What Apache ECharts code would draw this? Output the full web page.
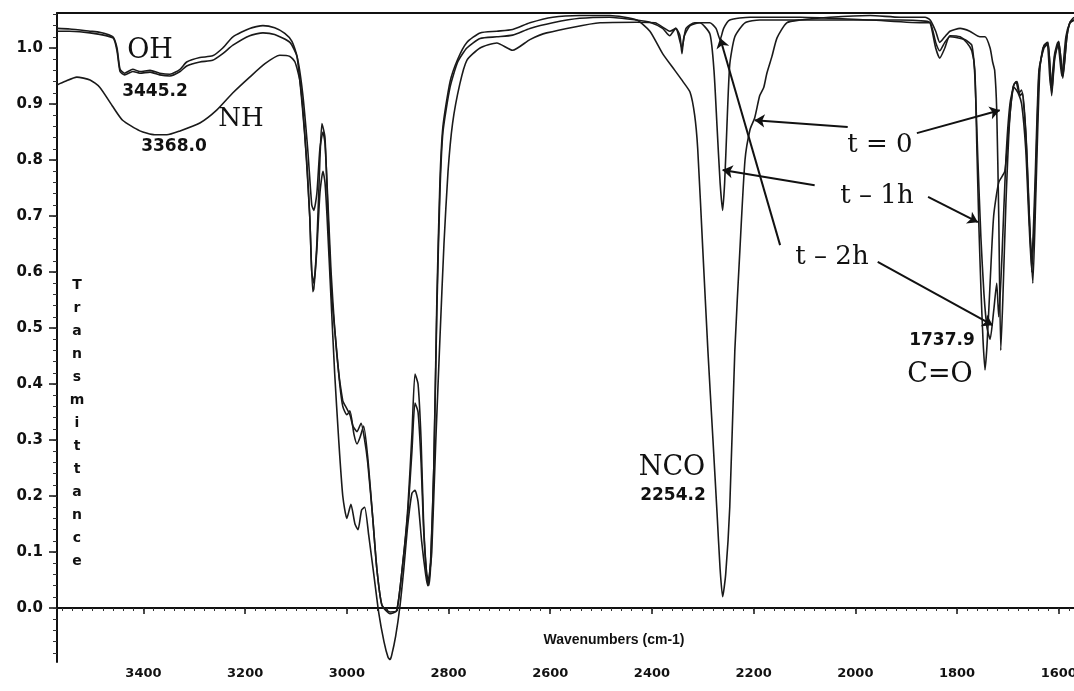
<!DOCTYPE html>
<html>
<head>
<meta charset="utf-8">
<title>FTIR spectrum</title>
<script src="https://cdn.jsdelivr.net/npm/echarts@6/dist/echarts.min.js"></script>
<style>
html,body{margin:0;padding:0;background:#fff;}
#main{width:1074px;height:691px;}
</style>
</head>
<body>
<div id="main"></div>
<script>
// axis ticks
var xTicks=[1600,1800,2000,2200,2400,2600,2800,3000,3200,3400];
var yTicks=[0,0.1,0.2,0.3,0.4,0.5,0.6,0.7,0.8,0.9,1.0];

// spectra: [wavenumber, transmittance]
var t0=[[3570,1.035],[3545,1.034],[3505,1.03],[3486,1.028],[3460,1.02],[3452,1.0],[3446,0.962],[3437,0.955],
	[3421,0.962],[3407,0.958],[3387,0.96],[3368,0.955],[3348,0.953],[3328,0.962],[3315,0.975],[3289,0.983],
	[3264,0.986],[3244,1.0],[3224,1.02],[3191,1.035],[3165,1.04],[3142,1.036],[3122,1.026],[3108,1.012],
	[3098,0.985],[3088,0.9],[3079,0.8],[3073,0.7],[3069,0.6],[3065,0.58],[3059,0.65],[3053,0.8],[3049,0.865],
	[3043,0.84],[3037,0.7],[3030,0.56],[3022,0.48],[3014,0.4],[3008,0.36],[3000,0.345],[2994,0.352],[2986,0.31],
	[2980,0.293],[2974,0.305],[2967,0.325],[2959,0.27],[2949,0.16],[2941,0.07],[2931,0.005],[2915,-0.01],
	[2902,-0.005],[2890,0.08],[2880,0.18],[2872,0.31],[2866,0.418],[2860,0.4],[2854,0.3],[2849,0.15],[2843,0.06],
	[2839,0.04],[2835,0.08],[2829,0.25],[2823,0.55],[2817,0.76],[2811,0.86],[2797,0.94],[2782,0.98],[2764,1.01],
	[2738,1.027],[2705,1.03],[2674,1.033],[2640,1.045],[2595,1.055],[2542,1.058],[2483,1.058],[2430,1.05],
	[2404,1.03],[2379,0.99],[2355,0.96],[2339,0.94],[2325,0.921],[2316,0.88],[2310,0.82],[2300,0.64],[2290,0.46],
	[2280,0.3],[2272,0.17],[2266,0.07],[2261,0.02],[2255,0.06],[2247,0.18],[2237,0.46],[2227,0.64],[2217,0.8],
	[2207,0.855],[2198,0.875],[2188,0.915],[2180,0.93],[2174,0.955],[2164,0.985],[2154,1.018],[2135,1.045],
	[2109,1.05],[2050,1.055],[1971,1.058],[1912,1.055],[1863,1.055],[1853,1.05],[1842,1.03],[1834,1.01],
	[1824,1.02],[1814,1.03],[1794,1.035],[1775,1.03],[1755,1.02],[1745,1.02],[1735,1.0],[1730,0.975],[1726,0.96],
	[1722,0.89],[1718,0.7],[1714,0.46],[1710,0.55],[1704,0.72],[1696,0.88],[1688,0.935],[1682,0.94],[1676,0.915],
	[1671,0.92],[1663,0.82],[1657,0.68],[1651,0.58],[1645,0.74],[1637,0.965],[1629,1.005],[1621,1.01],[1614,0.915],
	[1608,0.98],[1600,1.012],[1592,0.946],[1584,1.02],[1578,1.046],[1570,1.055]];

var t1=[[3570,1.03],[3545,1.03],[3505,1.027],[3460,1.018],[3452,0.995],[3446,0.958],[3437,0.952],[3421,0.958],
	[3407,0.955],[3387,0.957],[3368,0.952],[3348,0.95],[3328,0.958],[3315,0.968],[3289,0.975],[3264,0.978],
	[3244,0.99],[3224,1.005],[3191,1.022],[3165,1.027],[3142,1.024],[3112,1.01],[3098,0.985],[3087,0.92],
	[3077,0.82],[3069,0.72],[3065,0.71],[3059,0.74],[3053,0.82],[3047,0.85],[3043,0.83],[3037,0.72],[3031,0.6],
	[3024,0.5],[3016,0.42],[3008,0.37],[3006,0.366],[2994,0.345],[2988,0.325],[2980,0.315],[2972,0.33],[2965,0.3],
	[2959,0.26],[2949,0.16],[2941,0.07],[2931,0.005],[2915,-0.007],[2902,-0.005],[2890,0.08],[2880,0.17],
	[2872,0.28],[2866,0.366],[2860,0.35],[2854,0.26],[2849,0.14],[2843,0.06],[2839,0.05],[2835,0.09],[2829,0.25],
	[2823,0.53],[2817,0.74],[2811,0.85],[2797,0.93],[2782,0.975],[2764,1.0],[2738,1.017],[2705,1.02],[2674,1.023],
	[2640,1.035],[2595,1.045],[2542,1.053],[2483,1.055],[2430,1.05],[2404,1.046],[2379,1.035],[2365,1.022],
	[2353,1.035],[2345,1.022],[2341,0.99],[2337,1.02],[2325,1.04],[2306,1.045],[2286,1.025],[2278,0.96],
	[2272,0.86],[2266,0.76],[2261,0.71],[2257,0.76],[2253,0.85],[2247,0.97],[2237,1.02],[2217,1.045],[2188,1.05],
	[2109,1.05],[2011,1.05],[1912,1.05],[1863,1.048],[1853,1.045],[1842,1.0],[1834,0.982],[1824,1.0],[1814,1.022],
	[1794,1.02],[1781,1.01],[1771,0.995],[1765,0.96],[1761,0.82],[1757,0.68],[1753,0.57],[1749,0.48],[1745,0.425],
	[1741,0.47],[1735,0.58],[1728,0.7],[1718,0.76],[1706,0.78],[1698,0.86],[1690,0.93],[1684,0.94],[1678,0.92],
	[1673,0.925],[1665,0.85],[1659,0.72],[1653,0.62],[1647,0.75],[1639,0.96],[1629,1.0],[1621,1.008],[1614,0.92],
	[1608,0.985],[1600,1.01],[1592,0.95],[1584,1.02],[1578,1.045],[1570,1.05]];

var t2=[[3570,0.934],[3555,0.94],[3531,0.948],[3505,0.943],[3486,0.93],[3460,0.895],[3441,0.871],[3407,0.852],
	[3378,0.845],[3354,0.845],[3328,0.852],[3289,0.866],[3256,0.889],[3224,0.92],[3191,0.948],[3161,0.972],
	[3132,0.987],[3112,0.985],[3102,0.975],[3092,0.94],[3083,0.85],[3073,0.7],[3067,0.565],[3065,0.57],
	[3059,0.64],[3053,0.74],[3047,0.78],[3043,0.76],[3039,0.7],[3031,0.55],[3024,0.42],[3016,0.3],[3008,0.2],
	[3000,0.16],[2992,0.185],[2984,0.15],[2978,0.14],[2971,0.175],[2965,0.18],[2957,0.13],[2947,0.06],
	[2937,-0.01],[2927,-0.06],[2919,-0.088],[2915,-0.092],[2912,-0.085],[2904,-0.05],[2896,0.0],[2888,0.07],
	[2880,0.15],[2872,0.205],[2866,0.21],[2860,0.19],[2853,0.12],[2845,0.06],[2841,0.04],[2835,0.08],[2833,0.1],
	[2825,0.3],[2817,0.48],[2809,0.65],[2801,0.78],[2792,0.866],[2778,0.935],[2764,0.978],[2738,1.0],[2705,1.009],
	[2674,0.996],[2640,1.015],[2607,1.027],[2502,1.045],[2430,1.046],[2394,1.045],[2375,1.035],[2365,1.03],
	[2353,1.035],[2341,1.0],[2333,1.035],[2316,1.045],[2286,1.045],[2274,1.035],[2266,1.015],[2259,1.035],
	[2247,1.05],[2207,1.055],[2109,1.055],[1971,1.05],[1863,1.045],[1853,1.045],[1842,1.01],[1834,0.995],
	[1824,1.01],[1814,1.02],[1785,1.015],[1771,1.005],[1765,0.95],[1759,0.8],[1753,0.66],[1747,0.56],[1741,0.5],
	[1735,0.48],[1728,0.53],[1722,0.58],[1718,0.52],[1712,0.62],[1704,0.8],[1696,0.9],[1688,0.93],[1680,0.92],
	[1673,0.9],[1665,0.82],[1659,0.7],[1653,0.6],[1647,0.72],[1639,0.95],[1631,1.0],[1623,1.01],[1616,0.93],
	[1608,0.99],[1602,1.01],[1594,0.95],[1586,1.02],[1578,1.045],[1570,1.05]];

// arrows from the time labels to the curves, in data coordinates: [from, to]
var arrows=[
	[[2015,0.859],[2198,0.871]],
	[[1879,0.848],[1716,0.889]],
	[[2080,0.755],[2261,0.782]],
	[[1857,0.734],[1759,0.689]],
	[[2148,0.648],[2266,1.018]],
	[[1956,0.618],[1730,0.505]]
];

var xMinor=[];
for(var w=1580;w<=3560;w+=20){ xMinor.push(w); }
var yMinor=[];
for(var k=-4;k<=53;k++){ yMinor.push(Math.round(k*2)/100); }

var ink='#1a1a1a';
var xMin=1570, xMax=3570, yMin=-0.0964, yMax=1.0625;

function curve(name,data){
	return {
		name:name,
		type:'line',
		data:data,
		xAxisIndex:0,
		yAxisIndex:0,
		showSymbol:false,
		smooth:0.2,
		silent:true,
		lineStyle:{color:ink,width:1.6}
	};
}

var series=[curve('t = 0',t0),curve('t = 1h',t1),curve('t = 2h',t2)];
series[0].markLine={
	silent:true,
	symbol:['none','arrow'],
	symbolSize:10,
	label:{show:false},
	lineStyle:{color:'#111',width:2,type:'solid'},
	data:arrows.map(function(a){ return [{coord:a[0]},{coord:a[1]}]; })
};

function txt(text,x,y,font){
	return {type:'text',x:x,y:y,silent:true,
		style:{text:text,font:font,fill:'#111',align:'center',verticalAlign:'middle'}};
}
var serif='"DejaVu Serif", serif';
var sansB='bold 17px "DejaVu Sans", sans-serif';

var chart=echarts.init(document.getElementById('main'));
var option={
	animation:false,
	backgroundColor:'#fff',
	grid:{left:57,right:0,top:13,bottom:29,containLabel:false,outerBoundsMode:'none'},
	xAxis:[
		{type:'value',position:'bottom',inverse:true,min:xMin,max:xMax,
			axisLine:{show:true,lineStyle:{color:'#111',width:2}},
			axisTick:{show:true,customValues:xTicks,length:6,lineStyle:{color:'#111',width:1.5}},
			axisLabel:{customValues:xTicks,margin:5,color:'#111',fontFamily:'DejaVu Sans',fontWeight:'bold',fontSize:13,
				formatter:function(v){ return String(v); }},
			splitLine:{show:false}},
		{type:'value',position:'bottom',inverse:true,min:xMin,max:xMax,
			axisLine:{show:false},
			axisTick:{show:true,customValues:xMinor,length:3,lineStyle:{color:'#333',width:1}},
			axisLabel:{show:false},splitLine:{show:false}},
		{type:'value',position:'top',inverse:true,min:xMin,max:xMax,
			axisLine:{show:true,lineStyle:{color:'#111',width:2}},
			axisTick:{show:false},axisLabel:{show:false},splitLine:{show:false}}
	],
	yAxis:[
		{type:'value',position:'left',min:yMin,max:yMax,
			axisLine:{show:true,lineStyle:{color:'#111',width:2}},
			axisTick:{show:true,customValues:yTicks,length:8,lineStyle:{color:'#111',width:1.5}},
			axisLabel:{customValues:yTicks,margin:14,color:'#111',fontFamily:'DejaVu Sans',fontWeight:'bold',fontSize:15,
				formatter:function(v){ return v.toFixed(1); }},
			splitLine:{show:false}},
		{type:'value',position:'left',min:yMin,max:yMax,
			axisLine:{show:false},
			axisTick:{show:true,customValues:yMinor,length:4,lineStyle:{color:'#333',width:1}},
			axisLabel:{show:false},splitLine:{show:false}}
	],
	graphic:[
		txt('OH',150,51,'27px '+serif),
		txt('3445.2',155,92,sansB),
		txt('NH',241,119,'26px '+serif),
		txt('3368.0',174,147,sansB),
		txt('t = 0',880,145,'26px '+serif),
		txt('t \u2013 1h',877,196,'26px '+serif),
		txt('t \u2013 2h',832,257,'26px '+serif),
		txt('NCO',672,468,'27px '+serif),
		txt('2254.2',673,496,sansB),
		txt('1737.9',942,341,sansB),
		txt('C=O',940,375,'27px '+serif),
		txt('Wavenumbers (cm-1)',614,640,'bold 14px "Liberation Sans", Arial, sans-serif'),
		{type:'text',x:77,y:274,silent:true,
			style:{text:'Transmittance'.split('').join('\n'),font:'bold 14px "DejaVu Sans", sans-serif',
				lineHeight:23,fill:'#111',align:'center',verticalAlign:'top'}}
	],
	series:series
};
chart.setOption(option);
window.onresize=chart.resize;
</script>
</body>
</html>
